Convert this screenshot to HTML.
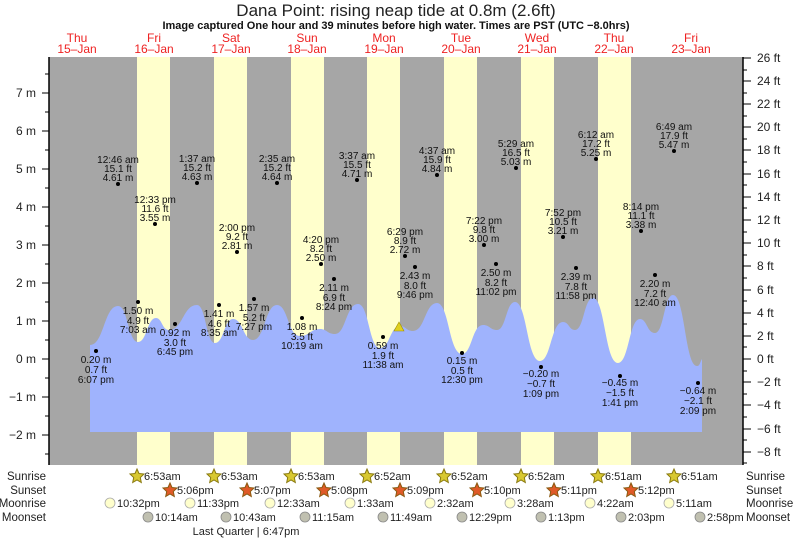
<!DOCTYPE html>
<html><head><meta charset="utf-8"><style>
body{margin:0;background:#fff;}
svg{display:block;font-family:"Liberation Sans",sans-serif;}
</style></head><body>
<svg width="793" height="539" viewBox="0 0 793 539" xmlns="http://www.w3.org/2000/svg">
<rect x="0" y="0" width="793" height="539" fill="#fff"/>
<text x="396" y="16" font-size="17" text-anchor="middle" fill="#222">Dana Point: rising  neap tide at 0.8m (2.6ft)</text>
<text x="396" y="29" font-size="11" font-weight="bold" text-anchor="middle" fill="#111">Image captured One hour and 39 minutes before high water. Times are PST (UTC −8.0hrs)</text>
<g font-size="12" fill="#ee2222" text-anchor="middle">
<text x="77" y="42">Thu</text><text x="77" y="53">15–Jan</text>
<text x="154" y="42">Fri</text><text x="154" y="53">16–Jan</text>
<text x="231" y="42">Sat</text><text x="231" y="53">17–Jan</text>
<text x="307" y="42">Sun</text><text x="307" y="53">18–Jan</text>
<text x="384" y="42">Mon</text><text x="384" y="53">19–Jan</text>
<text x="461" y="42">Tue</text><text x="461" y="53">20–Jan</text>
<text x="537" y="42">Wed</text><text x="537" y="53">21–Jan</text>
<text x="614" y="42">Thu</text><text x="614" y="53">22–Jan</text>
<text x="691" y="42">Fri</text><text x="691" y="53">23–Jan</text>
</g>
<rect x="49" y="57" width="694" height="408" fill="#a6a6a6"/>
<g fill="#ffffcc">
<rect x="137" y="57" width="33" height="408"/>
<rect x="214" y="57" width="33" height="408"/>
<rect x="291" y="57" width="33" height="408"/>
<rect x="367" y="57" width="33" height="408"/>
<rect x="444" y="57" width="33" height="408"/>
<rect x="521" y="57" width="33" height="408"/>
<rect x="598" y="57" width="33" height="408"/>
</g>
<path fill="#9fb3fd" d="M90,432 L90,345 C104,345 104,306 118,306 C128,306 128,342 138,342 C147,342 147,318 156,318 C162,318 162,330 169,330 C183,330 183,305 197,305 C206,305 206,343 215,343 C224,343 224,319 233,319 C243,319 243,340 253,340 C265,340 265,305 277,305 C288,305 288,336 300,336 C310,336 310,329 320,329 C327,329 327,334 335,334 C346,334 346,304 358,304 C369,304 369,348 380,348 C390,348 390,326 400,326 C406,326 406,331 413,331 C425,331 425,303 437,303 C449,303 449,354 462,354 C472,354 472,325 483,325 C490,325 490,330 497,330 C506,330 506,302 515,302 C527,302 527,361 540,361 C551,361 551,322 563,322 C569,322 569,330 575,330 C584,330 584,298 593,298 C605,298 605,363 618,363 C629,363 629,319 640,319 C647,319 647,333 655,333 C664,333 664,295 673,295 C685,295 685,366 697,366 C700,366 700,362 702,359 L702,432 Z"/>
<polygon points="399,322 394,331 404,331" fill="#e0d020" stroke="#a09000" stroke-width="0.6"/>
<g stroke="#000" stroke-width="1">
<line x1="49" y1="57" x2="49" y2="465" stroke-width="1.5"/>
<line x1="743" y1="57" x2="743" y2="465" stroke-width="1.5"/>
</g>
<g stroke="#000" stroke-width="1">
<line x1="42" y1="93" x2="49" y2="93"/><line x1="42" y1="131" x2="49" y2="131"/><line x1="42" y1="169" x2="49" y2="169"/><line x1="42" y1="207" x2="49" y2="207"/><line x1="42" y1="245" x2="49" y2="245"/><line x1="42" y1="283" x2="49" y2="283"/><line x1="42" y1="321" x2="49" y2="321"/><line x1="42" y1="359" x2="49" y2="359"/><line x1="42" y1="397" x2="49" y2="397"/><line x1="42" y1="435" x2="49" y2="435"/>
<line x1="45" y1="74" x2="49" y2="74"/><line x1="45" y1="112" x2="49" y2="112"/><line x1="45" y1="150" x2="49" y2="150"/><line x1="45" y1="188" x2="49" y2="188"/><line x1="45" y1="226" x2="49" y2="226"/><line x1="45" y1="264" x2="49" y2="264"/><line x1="45" y1="302" x2="49" y2="302"/><line x1="45" y1="340" x2="49" y2="340"/><line x1="45" y1="378" x2="49" y2="378"/><line x1="45" y1="416" x2="49" y2="416"/><line x1="45" y1="454" x2="49" y2="454"/>
</g>
<g font-size="12" fill="#222" text-anchor="end">
<text x="36" y="97">7 m</text><text x="36" y="135">6 m</text><text x="36" y="173">5 m</text><text x="36" y="211">4 m</text><text x="36" y="249">3 m</text><text x="36" y="287">2 m</text><text x="36" y="325">1 m</text><text x="36" y="363">0 m</text><text x="36" y="401">−1 m</text><text x="36" y="439">−2 m</text>
</g>
<g stroke="#000" stroke-width="1">
<line x1="743" y1="58" x2="751" y2="58"/><line x1="743" y1="81" x2="751" y2="81"/><line x1="743" y1="104" x2="751" y2="104"/><line x1="743" y1="127" x2="751" y2="127"/><line x1="743" y1="150" x2="751" y2="150"/><line x1="743" y1="174" x2="751" y2="174"/><line x1="743" y1="197" x2="751" y2="197"/><line x1="743" y1="220" x2="751" y2="220"/><line x1="743" y1="243" x2="751" y2="243"/><line x1="743" y1="266" x2="751" y2="266"/><line x1="743" y1="290" x2="751" y2="290"/><line x1="743" y1="313" x2="751" y2="313"/><line x1="743" y1="336" x2="751" y2="336"/><line x1="743" y1="359" x2="751" y2="359"/><line x1="743" y1="382" x2="751" y2="382"/><line x1="743" y1="405" x2="751" y2="405"/><line x1="743" y1="429" x2="751" y2="429"/><line x1="743" y1="452" x2="751" y2="452"/>
<line x1="743" y1="70" x2="747" y2="70"/><line x1="743" y1="93" x2="747" y2="93"/><line x1="743" y1="116" x2="747" y2="116"/><line x1="743" y1="139" x2="747" y2="139"/><line x1="743" y1="162" x2="747" y2="162"/><line x1="743" y1="185" x2="747" y2="185"/><line x1="743" y1="208" x2="747" y2="208"/><line x1="743" y1="232" x2="747" y2="232"/><line x1="743" y1="255" x2="747" y2="255"/><line x1="743" y1="278" x2="747" y2="278"/><line x1="743" y1="301" x2="747" y2="301"/><line x1="743" y1="324" x2="747" y2="324"/><line x1="743" y1="347" x2="747" y2="347"/><line x1="743" y1="371" x2="747" y2="371"/><line x1="743" y1="394" x2="747" y2="394"/><line x1="743" y1="417" x2="747" y2="417"/><line x1="743" y1="440" x2="747" y2="440"/><line x1="743" y1="463" x2="747" y2="463"/>
</g>
<g font-size="12" fill="#222">
<text x="757" y="62">26 ft</text><text x="757" y="85">24 ft</text><text x="757" y="108">22 ft</text><text x="757" y="131">20 ft</text><text x="757" y="154">18 ft</text><text x="757" y="178">16 ft</text><text x="757" y="201">14 ft</text><text x="757" y="224">12 ft</text><text x="757" y="247">10 ft</text><text x="757" y="270">8 ft</text><text x="757" y="294">6 ft</text><text x="757" y="317">4 ft</text><text x="757" y="340">2 ft</text><text x="757" y="363">0 ft</text><text x="757" y="386">−2 ft</text><text x="757" y="409">−4 ft</text><text x="757" y="433">−6 ft</text><text x="757" y="456">−8 ft</text>
</g>
<g fill="#000">
<circle cx="96" cy="351" r="2"/><circle cx="118" cy="184" r="2"/><circle cx="138" cy="302" r="2"/><circle cx="155" cy="224" r="2"/><circle cx="175" cy="324" r="2"/>
<circle cx="197" cy="183" r="2"/><circle cx="219" cy="305" r="2"/><circle cx="237" cy="252" r="2"/><circle cx="254" cy="299" r="2"/>
<circle cx="277" cy="183" r="2"/><circle cx="302" cy="318" r="2"/><circle cx="321" cy="264" r="2"/><circle cx="334" cy="279" r="2"/>
<circle cx="357" cy="180" r="2"/><circle cx="383" cy="337" r="2"/><circle cx="405" cy="256" r="2"/><circle cx="415" cy="267" r="2"/>
<circle cx="437" cy="175" r="2"/><circle cx="462" cy="353" r="2"/><circle cx="484" cy="245" r="2"/><circle cx="496" cy="264" r="2"/>
<circle cx="516" cy="168" r="2"/><circle cx="541" cy="367" r="2"/><circle cx="563" cy="237" r="2"/><circle cx="576" cy="268" r="2"/>
<circle cx="596" cy="159" r="2"/><circle cx="620" cy="376" r="2"/><circle cx="641" cy="231" r="2"/><circle cx="655" cy="275" r="2"/>
<circle cx="674" cy="151" r="2"/><circle cx="698" cy="383" r="2"/>
</g>
<g font-size="10" fill="#111" text-anchor="middle">
<text x="96" y="363">0.20 m</text><text x="96" y="373">0.7 ft</text><text x="96" y="383">6:07 pm</text>
<text x="118" y="163">12:46 am</text><text x="118" y="172">15.1 ft</text><text x="118" y="181">4.61 m</text>
<text x="138" y="314">1.50 m</text><text x="138" y="324">4.9 ft</text><text x="138" y="333">7:03 am</text>
<text x="155" y="203">12:33 pm</text><text x="155" y="212">11.6 ft</text><text x="155" y="221">3.55 m</text>
<text x="175" y="336">0.92 m</text><text x="175" y="346">3.0 ft</text><text x="175" y="355">6:45 pm</text>
<text x="197" y="162">1:37 am</text><text x="197" y="171">15.2 ft</text><text x="197" y="180">4.63 m</text>
<text x="219" y="317">1.41 m</text><text x="219" y="327">4.6 ft</text><text x="219" y="336">8:35 am</text>
<text x="237" y="231">2:00 pm</text><text x="237" y="240">9.2 ft</text><text x="237" y="249">2.81 m</text>
<text x="254" y="311">1.57 m</text><text x="254" y="321">5.2 ft</text><text x="254" y="330">7:27 pm</text>
<text x="277" y="162">2:35 am</text><text x="277" y="171">15.2 ft</text><text x="277" y="180">4.64 m</text>
<text x="302" y="330">1.08 m</text><text x="302" y="340">3.5 ft</text><text x="302" y="349">10:19 am</text>
<text x="321" y="243">4:20 pm</text><text x="321" y="252">8.2 ft</text><text x="321" y="261">2.50 m</text>
<text x="334" y="291">2.11 m</text><text x="334" y="301">6.9 ft</text><text x="334" y="310">8:24 pm</text>
<text x="357" y="159">3:37 am</text><text x="357" y="168">15.5 ft</text><text x="357" y="177">4.71 m</text>
<text x="383" y="349">0.59 m</text><text x="383" y="359">1.9 ft</text><text x="383" y="368">11:38 am</text>
<text x="405" y="235">6:29 pm</text><text x="405" y="244">8.9 ft</text><text x="405" y="253">2.72 m</text>
<text x="415" y="279">2.43 m</text><text x="415" y="289">8.0 ft</text><text x="415" y="298">9:46 pm</text>
<text x="437" y="154">4:37 am</text><text x="437" y="163">15.9 ft</text><text x="437" y="172">4.84 m</text>
<text x="462" y="364">0.15 m</text><text x="462" y="374">0.5 ft</text><text x="462" y="383">12:30 pm</text>
<text x="484" y="224">7:22 pm</text><text x="484" y="233">9.8 ft</text><text x="484" y="242">3.00 m</text>
<text x="496" y="276">2.50 m</text><text x="496" y="286">8.2 ft</text><text x="496" y="295">11:02 pm</text>
<text x="516" y="147">5:29 am</text><text x="516" y="156">16.5 ft</text><text x="516" y="165">5.03 m</text>
<text x="541" y="377">−0.20 m</text><text x="541" y="387">−0.7 ft</text><text x="541" y="397">1:09 pm</text>
<text x="563" y="216">7:52 pm</text><text x="563" y="225">10.5 ft</text><text x="563" y="234">3.21 m</text>
<text x="576" y="280">2.39 m</text><text x="576" y="290">7.8 ft</text><text x="576" y="299">11:58 pm</text>
<text x="596" y="138">6:12 am</text><text x="596" y="147">17.2 ft</text><text x="596" y="156">5.25 m</text>
<text x="620" y="386">−0.45 m</text><text x="620" y="396">−1.5 ft</text><text x="620" y="406">1:41 pm</text>
<text x="641" y="210">8:14 pm</text><text x="641" y="219">11.1 ft</text><text x="641" y="228">3.38 m</text>
<text x="655" y="287">2.20 m</text><text x="655" y="297">7.2 ft</text><text x="655" y="306">12:40 am</text>
<text x="674" y="130">6:49 am</text><text x="674" y="139">17.9 ft</text><text x="674" y="148">5.47 m</text>
<text x="698" y="394">−0.64 m</text><text x="698" y="404">−2.1 ft</text><text x="698" y="414">2:09 pm</text>
</g>
<g font-size="11.5" fill="#222" text-anchor="end">
<text x="46" y="480">Sunrise</text><text x="46" y="494">Sunset</text><text x="46" y="507">Moonrise</text><text x="46" y="521">Moonset</text>
</g>
<g font-size="11.5" fill="#222">
<text x="746" y="480">Sunrise</text><text x="746" y="494">Sunset</text><text x="746" y="507">Moonrise</text><text x="746" y="521">Moonset</text>
</g>
<defs>
<polygon id="st" points="0,-7 2,-2.5 7,-2 3.3,1.5 4.3,6.5 0,4 -4.3,6.5 -3.3,1.5 -7,-2 -2,-2.5"/>
</defs>
<g fill="#d8c830" stroke="#8a7a10" stroke-width="1">
<use href="#st" x="137" y="476"/><use href="#st" x="214" y="476"/><use href="#st" x="291" y="476"/><use href="#st" x="367" y="476"/><use href="#st" x="444" y="476"/><use href="#st" x="521" y="476"/><use href="#st" x="598" y="476"/><use href="#st" x="674" y="476"/>
</g>
<g fill="#e05a28" stroke="#8a5a10" stroke-width="1">
<use href="#st" x="170" y="490"/><use href="#st" x="247" y="490"/><use href="#st" x="324" y="490"/><use href="#st" x="400" y="490"/><use href="#st" x="477" y="490"/><use href="#st" x="554" y="490"/><use href="#st" x="631" y="490"/>
</g>
<g font-size="11" fill="#222">
<text x="144" y="480">6:53am</text><text x="221" y="480">6:53am</text><text x="298" y="480">6:53am</text><text x="374" y="480">6:52am</text><text x="451" y="480">6:52am</text><text x="528" y="480">6:52am</text><text x="605" y="480">6:51am</text><text x="681" y="480">6:51am</text>
<text x="177" y="494">5:06pm</text><text x="254" y="494">5:07pm</text><text x="331" y="494">5:08pm</text><text x="407" y="494">5:09pm</text><text x="484" y="494">5:10pm</text><text x="561" y="494">5:11pm</text><text x="638" y="494">5:12pm</text>
</g>
<g fill="#ffffcc" stroke="#aaa" stroke-width="0.8">
<circle cx="110" cy="503" r="5"/><circle cx="190" cy="503" r="5"/><circle cx="270" cy="503" r="5"/><circle cx="350" cy="503" r="5"/><circle cx="430" cy="503" r="5"/><circle cx="510" cy="503" r="5"/><circle cx="590" cy="503" r="5"/><circle cx="669" cy="503" r="5"/>
</g>
<g fill="#c0c0b0" stroke="#888" stroke-width="0.8">
<circle cx="148" cy="517" r="5"/><circle cx="226" cy="517" r="5"/><circle cx="305" cy="517" r="5"/><circle cx="383" cy="517" r="5"/><circle cx="462" cy="517" r="5"/><circle cx="541" cy="517" r="5"/><circle cx="621" cy="517" r="5"/><circle cx="700" cy="517" r="5"/>
</g>
<g font-size="11" fill="#222">
<text x="117" y="507">10:32pm</text><text x="197" y="507">11:33pm</text><text x="277" y="507">12:33am</text><text x="357" y="507">1:33am</text><text x="437" y="507">2:32am</text><text x="517" y="507">3:28am</text><text x="597" y="507">4:22am</text><text x="676" y="507">5:11am</text>
<text x="155" y="521">10:14am</text><text x="233" y="521">10:43am</text><text x="312" y="521">11:15am</text><text x="390" y="521">11:49am</text><text x="469" y="521">12:29pm</text><text x="548" y="521">1:13pm</text><text x="628" y="521">2:03pm</text><text x="707" y="521">2:58pm</text>
</g>
<text x="246" y="535" font-size="11" fill="#222" text-anchor="middle">Last Quarter | 6:47pm</text>
</svg>
</body></html>
